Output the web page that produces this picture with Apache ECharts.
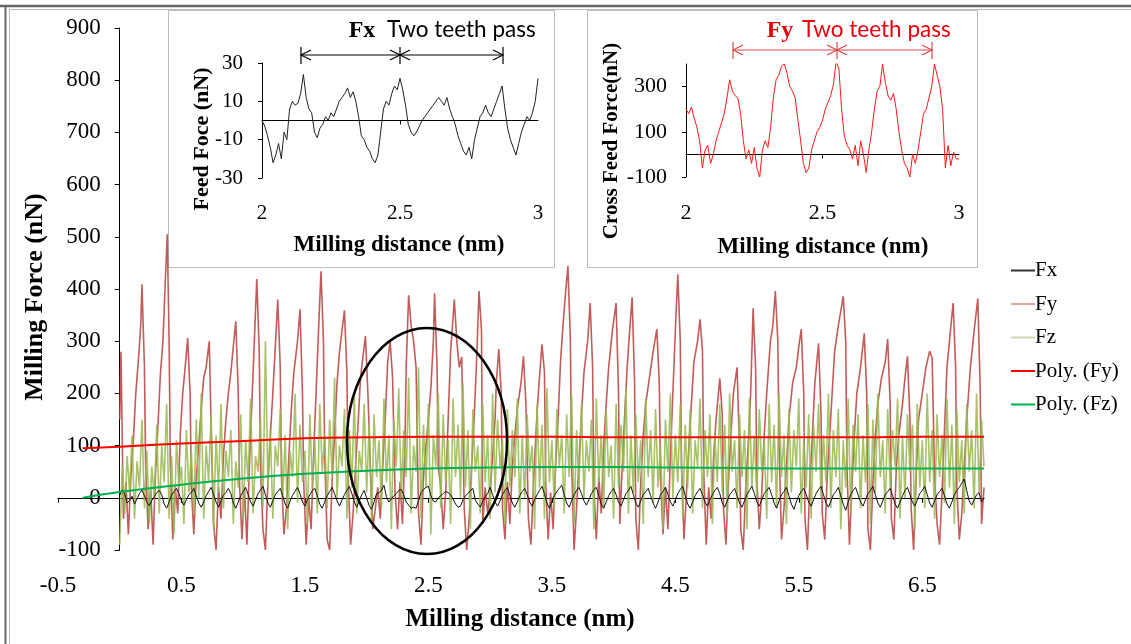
<!DOCTYPE html>
<html>
<head>
<meta charset="utf-8">
<script src="https://cdn.jsdelivr.net/npm/echarts@6/dist/echarts.min.js"></script>
<style>
  html, body { margin: 0; padding: 0; background: #fff; }
  #main { width: 1131px; height: 644px; }
</style>
</head>
<body>
<div id="main"></div>
<script>
// Fy (cross feed force) as [distance, force]
var fyPoints = [
  [0,150],[0.01,280],[0.02,120],[0.03,-40],[0.05,30],[0.07,-70],[0.09,40],[0.11,110],[0.13,200],[0.15,260],[0.17,330],[0.18,409],
  [0.2,250],[0.21,60],[0.23,-60],[0.25,20],[0.27,-90],[0.29,50],[0.31,140],[0.33,240],[0.35,300],[0.37,420],[0.385,505],
  [0.4,300],[0.41,60],[0.43,-80],[0.45,20],[0.47,-30],[0.49,120],[0.51,200],[0.53,250],[0.55,306],
  [0.57,200],[0.58,20],[0.6,-70],[0.62,40],[0.64,100],[0.66,170],[0.68,230],[0.7,250],[0.725,300],
  [0.74,140],[0.76,-50],[0.78,-100],[0.8,20],[0.82,-40],[0.84,80],[0.86,150],[0.88,200],[0.9,240],[0.92,290],[0.94,338],
  [0.96,200],[0.97,30],[0.99,-80],[1.01,20],[1.03,-90],[1.05,60],[1.07,180],[1.09,300],[1.11,419],
  [1.13,280],[1.14,60],[1.16,-60],[1.18,-100],[1.2,30],[1.22,120],[1.24,200],[1.26,290],[1.28,380],
  [1.3,250],[1.31,40],[1.33,-70],[1.35,-20],[1.37,80],[1.39,170],[1.41,240],[1.44,300],[1.46,361],
  [1.48,200],[1.49,30],[1.51,-90],[1.53,0],[1.55,-60],[1.57,80],[1.59,200],[1.61,320],[1.63,434],
  [1.65,300],[1.66,80],[1.68,-80],[1.7,-100],[1.72,30],[1.74,120],[1.76,220],[1.78,280],[1.8,320],[1.82,359],
  [1.84,240],[1.85,40],[1.87,-90],[1.89,-30],[1.91,60],[1.93,140],[1.95,230],[1.97,270],[1.99,310],
  [2.01,200],[2.03,60],[2.05,-60],[2.07,-20],[2.09,20],[2.11,-40],[2.13,60],[2.15,150],[2.17,260],[2.19,300],
  [2.21,230],[2.23,10],[2.25,-60],[2.27,30],[2.29,-50],[2.31,100],[2.32,250],[2.34,388],
  [2.36,330],[2.38,300],[2.4,250],[2.42,-30],[2.44,-90],[2.46,40],[2.48,100],[2.5,150],[2.52,210],[2.54,300],[2.55,392],
  [2.57,250],[2.58,60],[2.6,20],[2.62,-60],[2.64,10],[2.66,150],[2.68,280],[2.71,380],
  [2.73,300],[2.75,250],[2.77,270],[2.79,-20],[2.81,-100],[2.83,-40],[2.85,60],[2.87,150],[2.89,260],[2.91,396],
  [2.93,320],[2.94,-50],[2.96,20],[2.98,-30],[3,10],[3.02,80],[3.04,150],[3.05,220],[3.07,285],
  [3.09,200],[3.1,-20],[3.12,-80],[3.14,30],[3.16,-50],[3.18,60],[3.2,120],[3.22,170],[3.25,220],[3.27,271],
  [3.29,180],[3.31,-40],[3.33,-90],[3.35,20],[3.37,120],[3.39,200],[3.42,294],
  [3.44,240],[3.45,30],[3.47,-80],[3.49,10],[3.51,-60],[3.53,60],[3.55,150],[3.57,260],[3.59,330],[3.61,390],[3.63,444],
  [3.65,300],[3.66,60],[3.68,-100],[3.7,-20],[3.72,70],[3.74,160],[3.76,240],[3.79,300],[3.81,373],
  [3.83,250],[3.84,20],[3.86,-80],[3.88,40],[3.9,-30],[3.92,100],[3.94,180],[3.96,250],[3.99,320],[4.02,373],
  [4.04,200],[4.05,-50],[4.07,60],[4.09,160],[4.11,250],[4.13,320],[4.15,384],
  [4.17,220],[4.18,-40],[4.2,-100],[4.22,30],[4.24,120],[4.26,180],[4.29,230],[4.32,280],[4.35,323],
  [4.37,220],[4.38,40],[4.4,-70],[4.42,20],[4.44,-60],[4.46,80],[4.48,200],[4.5,320],[4.52,428],
  [4.54,300],[4.55,60],[4.57,-80],[4.59,10],[4.61,100],[4.63,180],[4.65,260],[4.68,300],[4.7,342],
  [4.72,280],[4.73,50],[4.75,-90],[4.77,20],[4.79,-40],[4.81,80],[4.83,150],[4.86,229],
  [4.88,160],[4.89,-20],[4.91,-90],[4.93,30],[4.95,120],[4.97,200],[5,250],
  [5.02,90],[5.03,-60],[5.05,-100],[5.07,20],[5.09,100],[5.11,200],[5.12,280],[5.13,363],
  [5.15,250],[5.16,40],[5.18,-60],[5.2,10],[5.22,120],[5.24,200],[5.27,300],[5.29,330],[5.31,396],
  [5.33,300],[5.34,100],[5.36,-80],[5.38,-20],[5.4,60],[5.42,150],[5.45,220],[5.48,250],[5.5,290],[5.52,323],
  [5.54,200],[5.55,-40],[5.57,-100],[5.59,30],[5.61,120],[5.63,220],[5.66,296],
  [5.68,160],[5.69,-30],[5.71,-80],[5.73,40],[5.75,120],[5.77,200],[5.79,280],[5.82,330],[5.86,386],
  [5.88,300],[5.89,60],[5.91,-90],[5.93,20],[5.95,120],[5.97,200],[6,250],[6.03,315],
  [6.05,200],[6.06,-60],[6.08,-100],[6.1,30],[6.12,120],[6.14,180],[6.17,230],[6.2,260],[6.22,304],
  [6.24,180],[6.25,-40],[6.27,-80],[6.29,60],[6.31,120],[6.34,180],[6.36,230],[6.38,271],
  [6.4,150],[6.41,-20],[6.43,-100],[6.45,40],[6.47,150],[6.5,200],[6.53,250],[6.56,281],
  [6.58,268],[6.6,40],[6.62,-50],[6.64,-90],[6.66,10],[6.68,130],[6.7,250],[6.72,300],[6.75,373],
  [6.77,250],[6.78,20],[6.8,-80],[6.82,-30],[6.84,60],[6.86,150],[6.89,250],[6.92,320],[6.95,382],
  [6.97,200],[6.98,-50],[7,20]
];

// Fz and Fx sampled every 0.02 nm from 0 to 7
var sampleStep = 0.02;
var fzValues = [
  -90, 60, -30, 80, 10, 120, -40, 70, 20, 150,
  -20, 90, -50, 60, 0, 140, -30, 100, 30, 180,
  -40, 80, -70, 110, 20, 60, -50, 130, 10, 90,
  -30, 150, 0, 200, -40, 100, 30, 160, -60, 120,
  10, 180, -20, 90, 40, 130, -50, 70, 20, 160,
  -40, 110, 30, 190, -30, 80, 50, 150, -20, 300,
  20, 130, -40, 100, 60, 170, 0, 120, -60, 90,
  40, 200, -10, 140, 30, 90, -50, 160, 20, 110,
  -30, 180, 50, 120, -20, 150, 40, 230, 0, 100,
  60, 170, -40, 130, 20, 200, -30, 90, 50, 180,
  10, 140, -50, 160, 40, 110, -20, 190, 30, 120,
  -60, 150, 60, 210, 0, 130, 40, 230, -30, 100,
  50, 250, -40, 140, 20, 180, -70, 120, 60, 200,
  -20, 160, 30, 110, -50, 190, 40, 140, 0, 220,
  20, 130, -60, 170, 50, 100, -30, 180, 30, 120,
  -40, 200, 10, 150, 60, 110, -50, 170, 20, 130,
  40, 190, -30, 120, 0, 160, 50, 100, -60, 180,
  20, 140, -40, 210, 30, 110, -20, 170, 60, 120,
  -30, 160, 40, 200, -50, 130, 20, 180, 0, 110,
  50, 150, -60, 190, 30, 120, -20, 170, 40, 100,
  -40, 180, 20, 140, 50, 210, -30, 120, 10, 160,
  30, 110, -50, 190, 40, 130, -10, 170, 20, 100,
  -60, 150, 50, 200, 0, 120, 30, 180, -40, 140,
  20, 170, -30, 110, 60, 190, -20, 130, 40, 160,
  -50, 120, 30, 180, 10, 140, -40, 200, 50, 110,
  -20, 160, 40, 130, -60, 190, 20, 120, 0, 170,
  50, 110, -40, 180, 30, 140, -20, 200, 40, 120,
  -50, 170, 10, 130, 60, 190, -30, 110, 20, 160,
  -40, 140, 50, 180, 0, 120, 30, 200, -20, 130,
  40, 170, -60, 110, 20, 190, -30, 140, 50, 160,
  -20, 120, 30, 180, -50, 150, 10, 200, 40, 110,
  -30, 170, 20, 130, 60, 190, -40, 120, 0, 160,
  50, 140, -60, 180, 20, 110, -20, 200, 30, 130,
  -40, 160, 40, 120, -10, 190, 20, 140, -50, 170,
  30, 110, -30, 180, 50, 130, -20, 200, 10, 150,
  60
];
var fxValues = [
  5, 15, 8, -10, -5, 3, -12, -2, 8, 15,
  4, -8, -15, -5, 2, 10, 14, 6, -12, -20,
  -8, 5, 12, 18, 8, -6, -14, -4, 6, 10,
  18, 4, -10, -18, -8, 4, 12, 20, 6, -8,
  -18, -6, 5, 10, 18, 8, -10, -20, -8, 4,
  12, 20, 6, -8, -16, -4, 8, 15, 22, 6,
  -10, -18, -6, 6, 12, 18, 4, -12, -20, -6,
  5, 12, 20, 8, -8, -16, -4, 6, 14, 18,
  4, -12, -20, -8, 4, 12, 20, 8, -6, -16,
  -4, 6, 14, 22, 8, -8, -18, -6, 6, 14,
  0, -15, -22, -8, 8, 10, 14, 24, 2, -8,
  -2, 4, 8, 14, 16, 6, -8, -14, -20, -18,
  -20, -6, 10, 16, 20, 22, 4, -6, -8, 0,
  4, 8, 12, 10, 6, -2, -12, -18, -16, -4,
  4, 8, 14, 18, -4, -12, -18, -6, 2, 8,
  20, 6, -8, -16, -6, 6, 14, 20, 4, -10,
  -18, -8, 4, 12, 18, 6, -8, -16, -4, 6,
  14, 22, 8, -10, -20, -8, 4, 12, 18, 24,
  6, -10, -18, -6, 6, 14, 20, 8, -6, -14,
  -4, 8, 16, 20, 4, -12, -20, -8, 4, 12,
  18, 6, -8, -16, -4, 8, 14, 22, 6, -10,
  -18, -6, 6, 12, 18, 4, -10, -20, -8, 6,
  12, 20, 6, -8, -16, -4, 8, 16, 22, 4,
  -12, -20, -8, 4, 12, 18, 6, -8, -16, -4,
  6, 14, 20, 8, -10, -18, -6, 6, 12, 18,
  4, -10, -18, -6, 6, 14, 22, 8, -8, -16,
  -4, 8, 14, 20, 6, -10, -20, -6, 6, 12,
  20, 4, -12, -22, -8, 4, 12, 18, 6, -8,
  -16, -4, 8, 16, 22, 6, -10, -18, -6, 6,
  12, 20, 4, -12, -24, -8, 6, 14, 20, 6,
  -8, -16, -4, 8, 14, 22, 6, -10, -18, -6,
  6, 12, 18, 4, -12, -20, -8, 4, 14, 20,
  6, -8, -16, -4, 8, 14, 22, 6, -10, -18,
  -6, 6, 12, 18, 4, -12, -20, -8, 6, 14,
  20, 28, 36, 14, -6, -14, -4, 6, 10, -8,
  0
];

// polynomial trend lines [distance, force]
var polyFy = [[-0.3,95],[0,98],[0.5,104],[1,109],[1.5,114],[2,116],[2.5,117],[3,117],[3.5,117],[4,116],[4.5,116],[5,116],[5.5,116],[6,116],[6.5,117],[7,117]];
var polyFz = [[-0.3,0],[0,11],[0.5,25],[1,37],[1.5,46],[2,52],[2.5,56],[3,58],[3.5,59],[4,59],[4.5,58],[5,57],[5.5,56],[6,56],[6.5,56],[7,56]];

// inset zooms, 2.00 .. 3.00 nm every 0.01
var insetStep = 0.01;
var insetFx = [
  0, -3, -8, -14, -22, -18, -12, -20, -6, -10,
  6, 10, 8, 9, 14, 24, 12, 6, 4, -6,
  -9, -4, -2, 2, 0, 4, 2, 6, 10, 12,
  14, 17, 12, 15, 10, 2, -8, -10, -14, -16,
  -20, -22, -18, -6, 6, 10, 8, 14, 18, 16,
  22, 16, 8, -2, -6, -8, -6, -3, 0, 2,
  4, 6, 8, 10, 12, 10, 8, 12, 6, 2,
  -2, -8, -12, -16, -18, -14, -20, -10, -4, 2,
  4, 8, 4, 2, 6, 10, 14, 18, 6, -4,
  -10, -14, -18, -12, -6, -2, 2, 0, 4, 10,
  22
];
var insetFy = [
  200, 180, 210, 160, 120, 60, -60, 20, 40, -40,
  0, 60, 100, 140, 180, 250, 330, 280, 260, 250,
  180, 60, -20, 20, -40, 30, -60, -100, 20, 60,
  30, 120, 250, 330, 350, 390, 400, 360, 300, 280,
  250, 150, 60, -40, -80, -60, 20, 60, 100, 120,
  150, 200, 230, 260, 310, 410, 380, 200, 80, 40,
  20, -20, 40, -50, 60, 0, -80, 20, 100, 200,
  280, 300, 400, 320, 260, 240, 270, 200, 100, 20,
  -40, -60, -100, 0, -40, 20, 100, 180, 200, 250,
  300, 400, 350, 300, 200, -60, 40, -50, 10, -20,
  -20
];

var mainTicks = [-0.5, 0.5, 1.5, 2.5, 3.5, 4.5, 5.5, 6.5];

function sampled(values, start, step) {
    return values.map(function (v, i) {
        return [+(start + i * step).toFixed(3), v];
    });
}

var serif = 'Liberation Serif';
var myChart = echarts.init(document.getElementById('main'));

// main grid: -0.5 .. 7 over 926px, so x = 0 sits 61.7px right of the left edge
var gridLeft = 58, gridWidth = 926;
var zeroShift = gridWidth / 7.5 * 0.5;

function arrowSet(color, y, xs) {
    var els = [];
    var st = { stroke: color, lineWidth: 1.2, fill: null };
    els.push({ type: 'polyline', shape: { points: [[xs[0], y], [xs[2], y]] }, style: st, z: 50 });
    xs.forEach(function (x) {
        els.push({ type: 'polyline', shape: { points: [[x, y - 8], [x, y + 9]] }, style: st, z: 50 });
    });
    // chevrons
    els.push({ type: 'polyline', shape: { points: [[xs[0] + 10, y - 5], [xs[0], y], [xs[0] + 10, y + 5]] }, style: st, z: 50 });
    els.push({ type: 'polyline', shape: { points: [[xs[1] - 10, y - 5], [xs[1], y], [xs[1] - 10, y + 5]] }, style: st, z: 50 });
    els.push({ type: 'polyline', shape: { points: [[xs[1] + 10, y - 5], [xs[1], y], [xs[1] + 10, y + 5]] }, style: st, z: 50 });
    els.push({ type: 'polyline', shape: { points: [[xs[2] - 10, y - 5], [xs[2], y], [xs[2] - 10, y + 5]] }, style: st, z: 50 });
    return els;
}

function label(text, x, y, size, opts) {
    opts = opts || {};
    return {
        type: 'text', x: x, y: y, rotation: opts.rotation || 0, z: 60,
        style: {
            text: text, fill: opts.color || '#000',
            font: (opts.bold ? 'bold ' : '') + size + 'px "' + (opts.family || serif) + '"',
            textAlign: opts.align || 'center', textVerticalAlign: 'middle'
        }
    };
}

var graphics = [
    // frame
    { type: 'line', shape: { x1: 0, y1: 6, x2: 1131, y2: 6 }, style: { stroke: '#666', lineWidth: 2.5 }, z: 40 },
    { type: 'line', shape: { x1: 9, y1: 9.5, x2: 1131, y2: 9.5 }, style: { stroke: '#bbb', lineWidth: 1 }, z: 40 },
    { type: 'line', shape: { x1: 5.5, y1: 6, x2: 5.5, y2: 644 }, style: { stroke: '#666', lineWidth: 2 }, z: 40 },
    { type: 'line', shape: { x1: 9.5, y1: 9.5, x2: 9.5, y2: 644 }, style: { stroke: '#bbb', lineWidth: 1 }, z: 40 },
    // inset boxes
    { type: 'rect', shape: { x: 168.5, y: 10.5, width: 386, height: 257 }, style: { fill: '#fff', stroke: '#bdbdbd', lineWidth: 1 }, z: 0 },
    { type: 'rect', shape: { x: 587.5, y: 10.5, width: 390, height: 257 }, style: { fill: '#fff', stroke: '#bdbdbd', lineWidth: 1 }, z: 0 },
    // ellipse
    { type: 'ellipse', shape: { cx: 427, cy: 441, rx: 80, ry: 113 }, style: { fill: null, stroke: '#000', lineWidth: 2.5 }, z: 55 },
    // titles
    label('Milling Force (nN)', 35, 297, 26, { bold: true, rotation: Math.PI / 2 }),
    label('Milling distance (nm)', 520, 620, 25, { bold: true }),
    label('Feed Foce (nN)', 202, 139, 22, { bold: true, rotation: Math.PI / 2 }),
    label('Milling distance (nm)', 399, 245, 23, { bold: true }),
    label('Cross Feed Force(nN)', 612, 141, 21, { bold: true, rotation: Math.PI / 2 }),
    label('Milling distance (nm)', 823, 247, 23, { bold: true }),
    label('Fx', 362, 31, 24, { bold: true }),
    label('Two teeth pass', 387, 30, 22.5, { family: 'Lato', align: 'left' }),
    label('Fy', 780, 31, 24, { bold: true, color: '#e8000b' }),
    label('Two teeth pass', 802, 30, 22.5, { family: 'Lato', align: 'left', color: '#e8000b' })
].concat(arrowSet('#000', 55, [301, 400, 503])).concat(arrowSet('#d44a4a', 50, [733, 837, 932]));

var option = {
    backgroundColor: '#fff',
    animation: false,
    graphic: { elements: graphics },
    legend: {
        orient: 'vertical',
        left: 1006,
        top: 255,
        itemWidth: 24,
        itemHeight: 2,
        itemGap: 12.5,
        icon: 'rect',
        textStyle: { color: '#000', fontFamily: serif, fontSize: 21, lineHeight: 20, padding: [0, 0, 0, -5] },
        data: ['Fx', 'Fy', 'Fz', 'Poly. (Fy)', 'Poly. (Fz)']
    },
    grid: [
        { left: gridLeft, width: gridWidth, top: 28, bottom: 94 },
        { left: 262, top: 63, width: 276, height: 115 },
        { left: 686, top: 64, width: 273, height: 113 }
    ],
    xAxis: [
        {
            type: 'value', gridIndex: 0, position: 'top', min: -0.5, max: 7,
            axisLine: { onZero: true, lineStyle: { color: '#000', width: 1 } },
            axisTick: { show: true, inside: true, length: 5, customValues: mainTicks, lineStyle: { color: '#000' } },
            axisLabel: { show: false },
            splitLine: { show: false }
        },
        {
            type: 'value', gridIndex: 0, position: 'bottom', min: -0.5, max: 7,
            axisLine: { show: false, onZero: false },
            axisTick: { show: false },
            axisLabel: { customValues: mainTicks, margin: 24, fontSize: 23, color: '#000', fontFamily: serif },
            splitLine: { show: false }
        },
        {
            type: 'value', gridIndex: 1, position: 'top', min: 2, max: 3,
            axisLine: { onZero: true, lineStyle: { color: '#000', width: 1 } },
            axisTick: { show: true, inside: true, length: 4, customValues: [2.5], lineStyle: { color: '#000' } },
            axisLabel: { show: false },
            splitLine: { show: false }
        },
        {
            type: 'value', gridIndex: 1, position: 'bottom', min: 2, max: 3,
            axisLine: { show: false, onZero: false },
            axisTick: { show: false },
            axisLabel: { customValues: [2, 2.5, 3], margin: 25, fontSize: 21, color: '#000', fontFamily: serif },
            splitLine: { show: false }
        },
        {
            type: 'value', gridIndex: 2, position: 'top', min: 2, max: 3,
            axisLine: { onZero: true, lineStyle: { color: '#000', width: 1 } },
            axisTick: { show: true, inside: true, length: 4, customValues: [2.5], lineStyle: { color: '#000' } },
            axisLabel: { show: false },
            splitLine: { show: false }
        },
        {
            type: 'value', gridIndex: 2, position: 'bottom', min: 2, max: 3,
            axisLine: { show: false, onZero: false },
            axisTick: { show: false },
            axisLabel: { customValues: [2, 2.5, 3], margin: 25, fontSize: 22, color: '#000', fontFamily: serif },
            splitLine: { show: false }
        }
    ],
    yAxis: [
        {
            type: 'value', gridIndex: 0, position: 'left', offset: -zeroShift,
            min: -100, max: 900, interval: 100,
            axisLine: { show: true, onZero: false, lineStyle: { color: '#000', width: 1 } },
            axisTick: { show: true, length: 5, lineStyle: { color: '#000' } },
            axisLabel: { margin: 19, fontSize: 23, color: '#000', fontFamily: serif },
            splitLine: { show: false }
        },
        {
            type: 'value', gridIndex: 1, min: -30, max: 30,
            axisLine: { show: true, onZero: false, lineStyle: { color: '#000', width: 1 } },
            axisTick: { show: true, length: 4, customValues: [-30, -10, 10, 30], lineStyle: { color: '#000' } },
            axisLabel: { customValues: [-30, -10, 10, 30], margin: 19, fontSize: 21, color: '#000', fontFamily: serif },
            splitLine: { show: false }
        },
        {
            type: 'value', gridIndex: 2, min: -100, max: 400,
            axisLine: { show: true, onZero: false, lineStyle: { color: '#000', width: 1 } },
            axisTick: { show: true, length: 4, customValues: [-100, 100, 300], lineStyle: { color: '#000' } },
            axisLabel: { customValues: [-100, 100, 300], margin: 19, fontSize: 22, color: '#000', fontFamily: serif },
            splitLine: { show: false }
        }
    ],
    series: [
        {
            name: 'Fy', type: 'line', xAxisIndex: 0, yAxisIndex: 0, data: fyPoints,
            showSymbol: false, symbol: 'none', z: 2,
            lineStyle: { color: 'rgba(185,70,68,0.88)', width: 1.6 },
            itemStyle: { color: '#e3a3a2' }
        },
        {
            name: 'Fz', type: 'line', xAxisIndex: 0, yAxisIndex: 0, data: sampled(fzValues, 0, sampleStep),
            showSymbol: false, symbol: 'none', z: 3,
            lineStyle: { color: 'rgba(150,185,80,0.85)', width: 1.6 },
            itemStyle: { color: '#cdd9ac' }
        },
        {
            name: 'Fx', type: 'line', xAxisIndex: 0, yAxisIndex: 0, data: sampled(fxValues, 0, sampleStep),
            showSymbol: false, symbol: 'none', z: 4,
            lineStyle: { color: '#111', width: 1 },
            itemStyle: { color: '#333' }
        },
        {
            name: 'Poly. (Fy)', type: 'line', xAxisIndex: 0, yAxisIndex: 0, data: polyFy,
            showSymbol: false, symbol: 'none', smooth: true, z: 5,
            lineStyle: { color: '#ff0000', width: 2 },
            itemStyle: { color: '#ff0000' }
        },
        {
            name: 'Poly. (Fz)', type: 'line', xAxisIndex: 0, yAxisIndex: 0, data: polyFz,
            showSymbol: false, symbol: 'none', smooth: true, z: 5,
            lineStyle: { color: '#00b050', width: 2 },
            itemStyle: { color: '#00b050' }
        },
        {
            name: 'inset Fx', type: 'line', xAxisIndex: 2, yAxisIndex: 1, data: sampled(insetFx, 2, insetStep),
            showSymbol: false, symbol: 'none', z: 5,
            lineStyle: { color: '#222', width: 1 }
        },
        {
            name: 'inset Fy', type: 'line', xAxisIndex: 4, yAxisIndex: 2, data: sampled(insetFy, 2, insetStep),
            showSymbol: false, symbol: 'none', z: 5,
            lineStyle: { color: '#ff1a1a', width: 1 }
        }
    ]
};

myChart.setOption(option);
</script>
</body>
</html>
